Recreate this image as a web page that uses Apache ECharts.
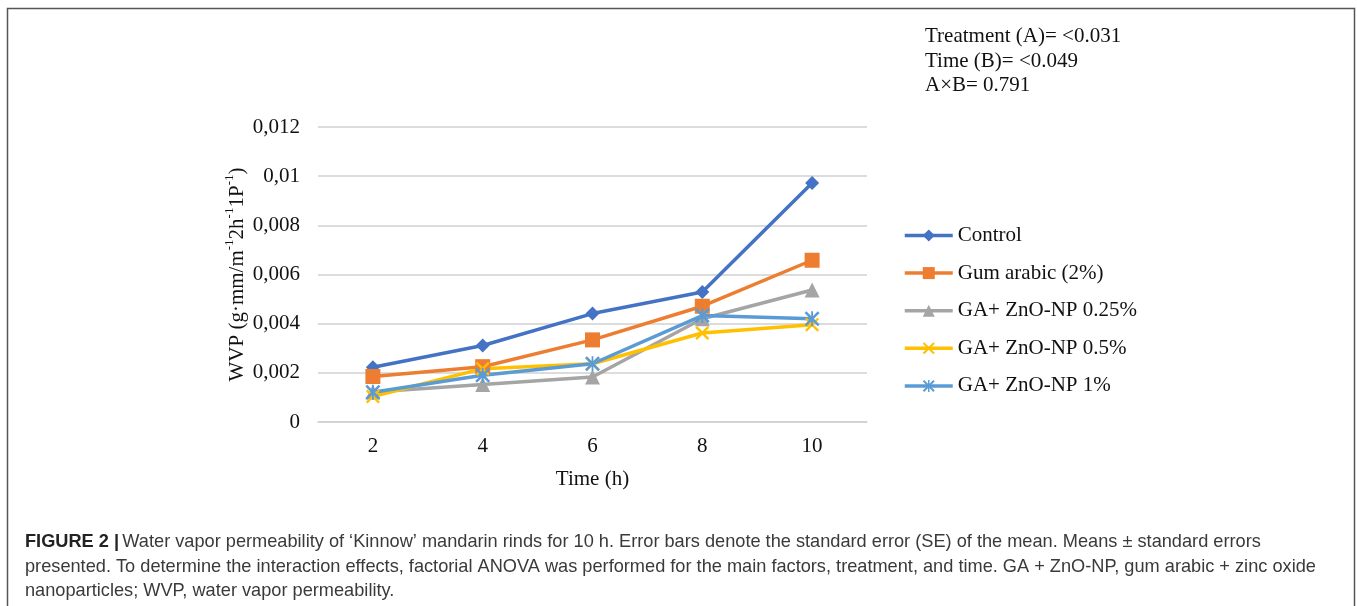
<!DOCTYPE html>
<html>
<head>
<meta charset="utf-8">
<script src="https://cdn.jsdelivr.net/npm/echarts@6/dist/echarts.min.js"></script>
<style>
  html, body { margin: 0; padding: 0; background: #fff; }
  #chart { width: 1357px; height: 606px; }
</style>
</head>
<body>
<div id="chart"></div>
<script>
// Time points (h)
const timeLabels = ['2', '4', '6', '8', '10'];

// WVP values per treatment
const controlValues   = [0.00223, 0.00311, 0.00441, 0.00529, 0.00972];
const gumArabicValues = [0.00185, 0.00225, 0.00334, 0.00471, 0.00658];
const zno025Values    = [0.00122, 0.00153, 0.00183, 0.00420, 0.00537];
const zno05Values     = [0.00104, 0.00217, 0.00237, 0.00362, 0.00396];
const zno1Values      = [0.00121, 0.00190, 0.00237, 0.00433, 0.00420];

const seriesNames = ['Control', 'Gum arabic (2%)', 'GA+ ZnO-NP 0.25%', 'GA+ ZnO-NP 0.5%', 'GA+ ZnO-NP 1%'];

// Y tick labels (decimal comma)
const yTickLabels = ['0', '0,002', '0,004', '0,006', '0,008', '0,01', '0,012'];

// ANOVA summary lines
const anovaLines = ['Treatment (A)= <0.031', 'Time (B)= <0.049', 'A\u00d7B= 0.791'];

// Caption lines
const captionLines = [
  "Water vapor permeability of \u2018Kinnow\u2019 mandarin rinds for 10 h. Error bars denote the standard error (SE) of the mean. Means \u00b1 standard errors",
  "presented. To determine the interaction effects, factorial ANOVA was performed for the main factors, treatment, and time. GA + ZnO-NP, gum arabic + zinc oxide",
  "nanoparticles; WVP, water vapor permeability."
];

const serif = '"Liberation Serif", "Times New Roman", serif';
const sans = '"Liberation Sans", Arial, sans-serif';
const serifSize = 21;
const captionFont = '18.2px ' + sans;

const xMark = 'path://M0,1.2 L1.2,0 L5,3.8 L8.8,0 L10,1.2 L6.2,5 L10,8.8 L8.8,10 L5,6.2 L1.2,10 L0,8.8 L3.8,5 Z';
const starMark = 'path://M0,1.2 L1.2,0 L5,3.8 L8.8,0 L10,1.2 L6.2,5 L10,8.8 L8.8,10 L5,6.2 L1.2,10 L0,8.8 L3.8,5 Z M4.4,0 L5.6,0 L5.6,10 L4.4,10 Z';

const colors = ['#4472C4', '#ED7D31', '#A5A5A5', '#FFC000', '#5B9BD5'];
const symbols = ['diamond', 'rect', 'triangle', xMark, starMark];
const symbolSizes = [14, 15, 15, 14, 15];
const allValues = [controlValues, gumArabicValues, zno025Values, zno05Values, zno1Values];

const chart = echarts.init(document.getElementById('chart'), null, { renderer: 'canvas' });

const series = seriesNames.map((name, i) => ({
  name: name,
  type: 'line',
  data: allValues[i],
  symbol: symbols[i],
  symbolSize: symbolSizes[i],
  showSymbol: true,
  lineStyle: { color: colors[i], width: 3.5 },
  itemStyle: { color: colors[i] },
  emphasis: { disabled: true },
  animation: false
}));

const graphics = [
  {
    type: 'rect',
    shape: { x: 7.5, y: 8.5, width: 1347, height: 700 },
    style: { fill: 'none', stroke: '#555', lineWidth: 1.5 },
    silent: true
  }
];

anovaLines.forEach((t, i) => {
  graphics.push({
    type: 'text',
    left: 925,
    top: 26 + i * 24.5,
    style: { text: t, font: serifSize + 'px ' + serif, fill: '#111' }
  });
});

captionLines.forEach((t, i) => {
  if (i === 0) {
    graphics.push({
      type: 'text',
      left: 25,
      top: 533,
      style: {
        text: '{b|FIGURE 2 |} {n|' + t + '}',
        rich: {
          b: { font: 'bold ' + captionFont, fill: '#222' },
          n: { font: captionFont, fill: '#3a3a3a' }
        }
      }
    });
  } else {
    graphics.push({
      type: 'text',
      left: 25,
      top: 533 + i * 24.5,
      style: { text: t, font: captionFont, fill: '#3a3a3a' }
    });
  }
});

chart.setOption({
  animation: false,
  backgroundColor: '#fff',
  color: colors,
  grid: { left: 318, top: 127, width: 549, height: 295, containLabel: false },
  legend: {
    orient: 'vertical',
    left: 903,
    top: 225,
    padding: 0,
    itemWidth: 48,
    itemHeight: 15,
    itemGap: 16.6,
    data: seriesNames,
    lineStyle: { width: 3.5 },
    textStyle: { fontFamily: serif, fontSize: serifSize, color: '#111', lineHeight: 21 },
    selectedMode: false
  },
  xAxis: {
    type: 'category',
    data: timeLabels,
    boundaryGap: true,
    name: 'Time (h)',
    nameLocation: 'middle',
    nameGap: 47,
    nameTextStyle: { fontFamily: serif, fontSize: serifSize, color: '#111' },
    axisLine: { show: true, lineStyle: { color: '#d0d0d0', width: 1.5 } },
    axisTick: { show: false },
    axisLabel: { fontFamily: serif, fontSize: serifSize, color: '#111', margin: 14 }
  },
  yAxis: {
    type: 'value',
    min: 0,
    max: 0.012,
    interval: 0.002,
    name: '{a|WVP (g\u00b7mm/m}{s|-1}{a|2h}{s|-1}{a|1P}{s|-1}{a|)}',
    nameLocation: 'middle',
    nameGap: 70,
    nameTextStyle: {
      rich: {
        a: { fontFamily: serif, fontSize: serifSize, color: '#111', lineHeight: 25, verticalAlign: 'bottom' },
        s: { fontFamily: serif, fontSize: 13, color: '#111', lineHeight: 25, verticalAlign: 'top' }
      }
    },
    axisLine: { show: false },
    axisTick: { show: false },
    splitLine: { show: true, lineStyle: { color: '#d0d0d0', width: 1.5 } },
    axisLabel: {
      fontFamily: serif, fontSize: serifSize, color: '#111', margin: 18,
      formatter: (v, idx) => yTickLabels[idx]
    }
  },
  graphic: graphics,
  series: series
});
</script>
</body>
</html>
